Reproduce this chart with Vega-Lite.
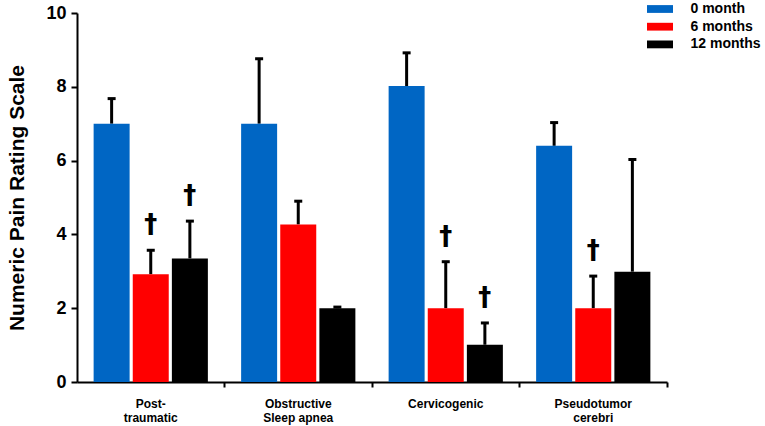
{
  "$schema": "https://vega.github.io/schema/vega-lite/v6.json",
  "width": 590,
  "height": 369,
  "autosize": {"type": "none"},
  "padding": {"left": 77, "top": 13, "right": 98, "bottom": 44},
  "background": "white",
  "config": {
    "view": {"stroke": null},
    "font": "Liberation Sans"
  },
  "data": {
    "values": [
      {"condition": "Post-traumatic", "time": "0 month", "value": 7.0, "err": 7.68, "sig": ""},
      {"condition": "Post-traumatic", "time": "6 months", "value": 2.92, "err": 3.57, "sig": "†"},
      {"condition": "Post-traumatic", "time": "12 months", "value": 3.35, "err": 4.36, "sig": "†"},
      {"condition": "Obstructive Sleep apnea", "time": "0 month", "value": 7.0, "err": 8.76, "sig": ""},
      {"condition": "Obstructive Sleep apnea", "time": "6 months", "value": 4.27, "err": 4.9, "sig": ""},
      {"condition": "Obstructive Sleep apnea", "time": "12 months", "value": 2.0, "err": 2.03, "sig": ""},
      {"condition": "Cervicogenic", "time": "0 month", "value": 8.02, "err": 8.92, "sig": ""},
      {"condition": "Cervicogenic", "time": "6 months", "value": 2.0, "err": 3.26, "sig": "†"},
      {"condition": "Cervicogenic", "time": "12 months", "value": 1.01, "err": 1.6, "sig": "†"},
      {"condition": "Pseudotumor cerebri", "time": "0 month", "value": 6.4, "err": 7.03, "sig": ""},
      {"condition": "Pseudotumor cerebri", "time": "6 months", "value": 2.0, "err": 2.87, "sig": "†"},
      {"condition": "Pseudotumor cerebri", "time": "12 months", "value": 2.99, "err": 6.03, "sig": ""}
    ]
  },
  "encoding": {
    "x": {
      "field": "condition",
      "type": "nominal",
      "sort": ["Post-traumatic", "Obstructive Sleep apnea", "Cervicogenic", "Pseudotumor cerebri"],
      "scale": {"paddingInner": 0, "paddingOuter": 0},
      "axis": {
        "title": null,
        "bandPosition": 1,
        "labelAngle": 0,
        "labelExpr": "datum.label == 'Post-traumatic' ? ['Post-', 'traumatic'] : datum.label == 'Obstructive Sleep apnea' ? ['Obstructive', 'Sleep apnea'] : datum.label == 'Pseudotumor cerebri' ? ['Pseudotumor', 'cerebri'] : datum.label",
        "labelFontSize": 12,
        "labelFontWeight": "bold",
        "labelColor": "black",
        "labelLineHeight": 14,
        "labelBaseline": "top",
        "labelPadding": 11,
        "domainColor": "black",
        "domainWidth": 2,
        "tickColor": "black",
        "tickWidth": 2,
        "tickSize": 5
      }
    },
    "xOffset": {
      "field": "time",
      "type": "nominal",
      "sort": ["0 month", "6 months", "12 months"],
      "scale": {"paddingInner": 0.08, "paddingOuter": 0.425}
    }
  },
  "layer": [
    {
      "mark": {"type": "rule", "color": "black", "strokeWidth": 3},
      "encoding": {
        "y": {"field": "value", "type": "quantitative"},
        "y2": {"field": "err"}
      }
    },
    {
      "mark": {"type": "tick", "color": "black", "thickness": 3, "size": 8, "opacity": 1},
      "encoding": {
        "y": {"field": "err", "type": "quantitative"}
      }
    },
    {
      "mark": {"type": "bar"},
      "encoding": {
        "y": {
          "field": "value",
          "type": "quantitative",
          "scale": {"domain": [0, 10], "nice": false},
          "axis": {
            "title": "Numeric Pain Rating Scale",
            "titleFontSize": 21,
            "titleFontWeight": "bold",
            "titleColor": "black",
            "titleX": -54,
            "titleBaseline": "alphabetic",
            "values": [0, 2, 4, 6, 8, 10],
            "grid": false,
            "labelFontSize": 18,
            "labelFontWeight": "bold",
            "labelColor": "black",
            "labelPadding": 5,
            "domainColor": "black",
            "domainWidth": 2,
            "tickColor": "black",
            "tickWidth": 2,
            "tickSize": 6
          }
        },
        "color": {
          "field": "time",
          "type": "nominal",
          "sort": ["0 month", "6 months", "12 months"],
          "scale": {"domain": ["0 month", "6 months", "12 months"], "range": ["#0066c4", "#ff0000", "#000000"]},
          "legend": {
            "title": null,
            "orient": "none",
            "legendX": 576,
            "legendY": -11,
            "symbolType": "M-2,-0.6H2V0.6H-2Z",
            "symbolSize": 169,
            "symbolStrokeWidth": 0,
            "symbolOpacity": 1,
            "labelFontSize": 14,
            "labelFontWeight": "bold",
            "labelColor": "black",
            "labelOffset": 23.5,
            "rowPadding": 3.7
          }
        }
      }
    },
    {
      "transform": [{"filter": "datum.sig != ''"}],
      "mark": {"type": "text", "font": "DejaVu Sans", "fontSize": 26, "fontWeight": "bold", "color": "black", "baseline": "alphabetic", "dy": -17},
      "encoding": {
        "y": {"field": "err", "type": "quantitative"},
        "text": {"field": "sig"}
      }
    }
  ]
}
